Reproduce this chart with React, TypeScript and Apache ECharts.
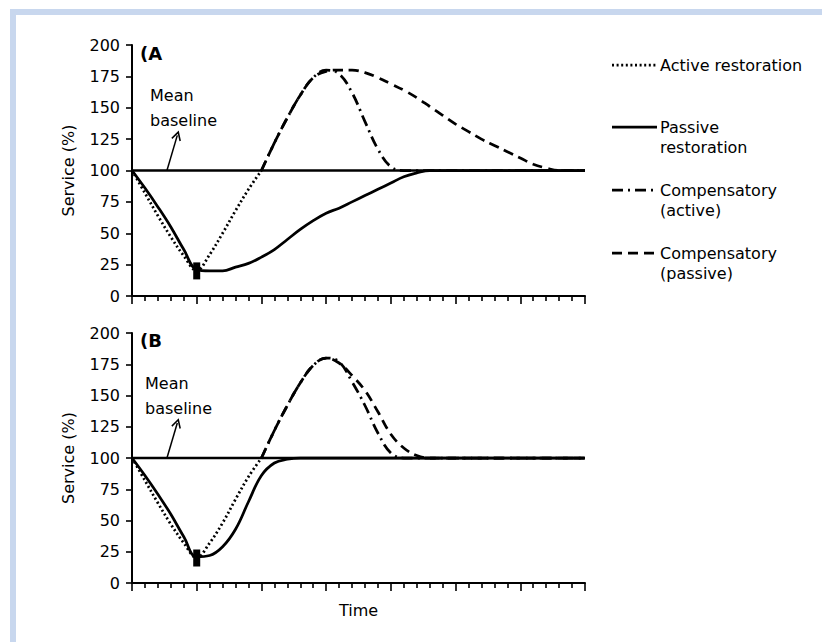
import React, { useEffect, useRef } from "react";
import * as echarts from "echarts";

// ---- data ----
const timeSteps = [0, 1, 2, 3, 4, 5, 6, 7, 8, 9, 10, 11, 12, 13, 14, 15, 16, 17, 18, 19, 20, 21, 22, 23, 24, 25, 26, 27, 28, 29, 30, 31, 32, 33, 34, 35];
const yTicks = [0, 25, 50, 75, 100, 125, 150, 175, 200];

const N = null;
// Panel A
const activeA = [100, 82, 64, 47, 32, 20, 33, 50, 68, 85, 100, N, N, N, N, N, N, N, N, N, N, N, N, N, N, N, N, N, N, N, N, N, N, N, N, N];
const passiveA = [100, 86, 71, 55, 37, 21, 20, 20, 23, 26, 31, 37, 45, 53, 60, 66, 70, 75, 80, 85, 90, 95, 98, 100, 100, 100, 100, 100, 100, 100, 100, 100, 100, 100, 100, 100];
const compActiveA = [N, N, N, N, N, N, N, N, N, N, 100, 122, 142, 160, 174, 180, 177, 162, 139, 117, 103, 100, 100, 100, 100, 100, 100, 100, 100, 100, 100, 100, 100, 100, 100, 100];
const compPassiveA = [N, N, N, N, N, N, N, N, N, N, 100, 122, 142, 160, 174, 179, 180, 180, 178, 174, 169, 164, 158, 151, 144, 137, 131, 125, 120, 115, 110, 105, 102, 100, 100, 100];
// Panel B
const activeB = [100, 82, 64, 47, 32, 20, 32, 48, 67, 85, 100, N, N, N, N, N, N, N, N, N, N, N, N, N, N, N, N, N, N, N, N, N, N, N, N, N];
const passiveB = [100, 86, 71, 55, 37, 21, 22, 29, 43, 65, 86, 96, 99, 100, 100, 100, 100, 100, 100, 100, 100, 100, 100, 100, 100, 100, 100, 100, 100, 100, 100, 100, 100, 100, 100, 100];
const compActiveB = [N, N, N, N, N, N, N, N, N, N, 100, 122, 142, 160, 174, 180, 177, 161, 142, 120, 104, 100, 100, 100, 100, 100, 100, 100, 100, 100, 100, 100, 100, 100, 100, 100];
const compPassiveB = [N, N, N, N, N, N, N, N, N, N, 100, 122, 142, 160, 174, 180, 176, 166, 154, 137, 119, 108, 102, 100, 100, 100, 100, 100, 100, 100, 100, 100, 100, 100, 100, 100];

const baselineValue = 100;
const disturbancePoint = [5, 20];
const arrowFrom = [2.7, 100];
const arrowTo = [3.5, 128];

const seriesNames = ["Active restoration", "Passive restoration", "Compensatory (active)", "Compensatory (passive)"];

const FONT = "DejaVu Sans";

function pairs(vals: (number | null)[]) {
  const out: number[][] = [];
  timeSteps.forEach((t, k) => {
    const v = vals[k];
    if (v !== null && v !== undefined) out.push([t, v]);
  });
  return out;
}

const dotted = [2, 2.6];
const dashDot = [11, 5, 2, 5];
const dashed = [10, 6];
const LW = 2.75;

function panelSeries(gi: number, active: any[], passive: any[], compA: any[], compP: any[]) {
  const common = {
    type: "line",
    xAxisIndex: gi,
    yAxisIndex: gi,
    showSymbol: false,
    symbol: "none",
    smooth: 0.4,
    silent: true,
  };
  return [
    {
      ...common,
      name: "Mean baseline",
      smooth: false,
      data: [[timeSteps[0], baselineValue], [timeSteps[timeSteps.length - 1], baselineValue]],
      lineStyle: { color: "#000", width: 2.5 },
      z: 2,
      markLine: {
        silent: true,
        animation: false,
        symbol: ["none", "path://M0 9 L5 0 L10 9 L8.7 9.9 L5 3.2 L1.3 9.9 Z"],
        symbolSize: [10, 10],
        label: { show: false },
        lineStyle: { color: "#000", width: 1.5, type: "solid" },
        data: [[{ coord: arrowFrom }, { coord: arrowTo }]],
      },
    },
    {
      ...common,
      name: seriesNames[1],
      data: pairs(passive),
      lineStyle: { color: "#000", width: LW, type: "solid" },
      z: 3,
    },
    {
      ...common,
      name: seriesNames[3],
      data: pairs(compP),
      lineStyle: { color: "#000", width: LW, type: dashed, cap: "butt" },
      z: 4,
    },
    {
      ...common,
      name: seriesNames[2],
      data: pairs(compA),
      lineStyle: { color: "#000", width: LW, type: dashDot, cap: "butt" },
      z: 5,
    },
    {
      ...common,
      name: seriesNames[0],
      smooth: 0.35,
      data: pairs(active),
      lineStyle: { color: "#000", width: LW, type: dotted, cap: "butt" },
      z: 6,
    },
    {
      type: "scatter",
      name: "Disturbance",
      xAxisIndex: gi,
      yAxisIndex: gi,
      data: [disturbancePoint],
      symbol: "rect",
      symbolSize: [7, 17],
      itemStyle: { color: "#000", opacity: 1 },
      silent: true,
      z: 7,
    },
  ];
}

function xAxisCfg(gi: number, withName: boolean) {
  return {
    type: "value",
    gridIndex: gi,
    min: timeSteps[0],
    max: timeSteps[timeSteps.length - 1],
    interval: 5,
    axisLine: { show: true, onZero: false, lineStyle: { color: "#000", width: 2 } },
    axisTick: { show: true, length: 8, lineStyle: { color: "#000", width: 1.6 } },
    minorTick: { show: true, splitNumber: 5, length: 5, lineStyle: { color: "#000", width: 1.6 } },
    axisLabel: { show: false },
    splitLine: { show: false },
    minorSplitLine: { show: false },
    name: withName ? "Time" : "",
    nameLocation: "middle",
    nameGap: 19,
    nameTextStyle: { color: "#000", fontFamily: FONT, fontSize: 16 },
  };
}

function yAxisCfg(gi: number) {
  return {
    type: "value",
    gridIndex: gi,
    min: yTicks[0],
    max: yTicks[yTicks.length - 1],
    interval: 25,
    axisLine: { show: true, lineStyle: { color: "#000", width: 2 } },
    axisTick: { show: true, length: 6, lineStyle: { color: "#000", width: 1.6 } },
    axisLabel: { color: "#000", fontFamily: FONT, fontSize: 16, margin: 12 },
    splitLine: { show: false },
    name: "Service (%)",
    nameLocation: "middle",
    nameGap: 56,
    nameTextStyle: { color: "#000", fontFamily: FONT, fontSize: 16 },
  };
}

function legendGraphic() {
  const items = [
    { y: 65, dash: dotted, text: "Active restoration" },
    { y: 127, dash: null, text: "Passive\nrestoration" },
    { y: 190, dash: dashDot, text: "Compensatory\n(active)" },
    { y: 253, dash: dashed, text: "Compensatory\n(passive)" },
  ];
  const els: any[] = [];
  items.forEach((it) => {
    els.push({
      type: "line",
      silent: true,
      shape: { x1: 612, y1: it.y, x2: 657, y2: it.y },
      style: { stroke: "#000", lineWidth: LW, lineDash: it.dash || undefined, lineCap: "butt" },
    });
    els.push({
      type: "text",
      silent: true,
      x: 660,
      y: it.y - 10,
      style: {
        text: it.text,
        fill: "#000",
        fontFamily: FONT,
        fontSize: 16,
        lineHeight: 20,
        align: "left",
        verticalAlign: "top",
      },
    });
  });
  return els;
}

export default function App() {
  const ref = useRef<HTMLDivElement>(null);
  useEffect(() => {
    if (!ref.current) return;
    const chart = echarts.init(ref.current, null, { renderer: "svg" });
    const option: any = {
      animation: false,
      backgroundColor: "#ffffff",
      grid: [
        { left: 132, top: 45, width: 453, height: 251 },
        { left: 132, top: 333, width: 453, height: 250 },
      ],
      xAxis: [xAxisCfg(0, false), xAxisCfg(1, true)],
      yAxis: [yAxisCfg(0), yAxisCfg(1)],
      series: [
        ...panelSeries(0, activeA, passiveA, compActiveA, compPassiveA),
        ...panelSeries(1, activeB, passiveB, compActiveB, compPassiveB),
      ],
      graphic: [
        { type: "rect", silent: true, shape: { x: 10, y: 9, width: 6, height: 633 }, style: { fill: "#c8d7ee" } },
        { type: "rect", silent: true, shape: { x: 10, y: 9, width: 812, height: 6 }, style: { fill: "#c8d7ee" } },
        {
          type: "text", silent: true, x: 140, y: 53,
          style: { text: "(A", fill: "#000", fontFamily: FONT, fontSize: 18, fontWeight: "bold", align: "left", verticalAlign: "middle" },
        },
        {
          type: "text", silent: true, x: 140, y: 340,
          style: { text: "(B", fill: "#000", fontFamily: FONT, fontSize: 18, fontWeight: "bold", align: "left", verticalAlign: "middle" },
        },
        {
          type: "text", silent: true, x: 150, y: 107.5,
          style: { text: "Mean\nbaseline", fill: "#000", fontFamily: FONT, fontSize: 16, lineHeight: 25, align: "left", verticalAlign: "middle" },
        },
        {
          type: "text", silent: true, x: 145, y: 396,
          style: { text: "Mean\nbaseline", fill: "#000", fontFamily: FONT, fontSize: 16, lineHeight: 25, align: "left", verticalAlign: "middle" },
        },
        ...legendGraphic(),
      ],
    };
    chart.setOption(option);
    return () => chart.dispose();
  }, []);
  return (
    <div
      ref={ref}
      style={{ position: "fixed", left: 0, top: 0, width: 822, height: 642 }}
    />
  );
}
